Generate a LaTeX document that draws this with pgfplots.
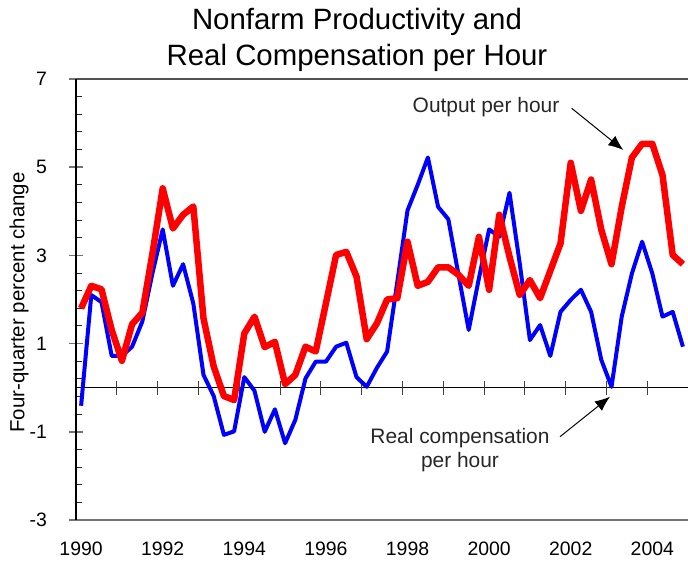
\documentclass[border=0pt]{standalone}
\usepackage{fontspec}
\setmainfont{Liberation Sans}
\usepackage{pgfplots}
\usepackage{pgfplotstable}
\pgfplotsset{compat=1.18}
\usetikzlibrary{arrows.meta}
\definecolor{redline}{RGB}{255,0,0}
\definecolor{blueline}{RGB}{0,0,255}
\definecolor{axgray}{RGB}{115,115,115}

\pgfplotstableread{
x       red    blue
1990.00  1.80  -0.41
1990.25  2.31   2.10
1990.50  2.23   1.94
1990.75  1.31   0.72
1991.00  0.61   0.72
1991.25  1.44   0.93
1991.50  1.70   1.50
1991.75  3.05   2.60
1992.00  4.52   3.59
1992.25  3.61   2.31
1992.50  3.92   2.80
1992.75  4.11   1.91
1993.00  1.57   0.29
1993.25  0.48  -0.19
1993.50 -0.19  -1.07
1993.75 -0.28  -0.99
1994.00  1.23   0.24
1994.25  1.61  -0.07
1994.50  0.92  -1.00
1994.75  1.04  -0.49
1995.00  0.08  -1.26
1995.25  0.29  -0.73
1995.50  0.93   0.21
1995.75  0.82   0.59
1996.00  1.91   0.59
1996.25  3.01   0.93
1996.50  3.08   1.02
1996.75  2.52   0.24
1997.00  1.10   0.02
1997.25  1.46   0.45
1997.50  2.00   0.82
1997.75  2.03   2.40
1998.00  3.31   4.02
1998.25  2.31   4.60
1998.50  2.40   5.22
1998.75  2.73   4.10
1999.00  2.73   3.82
1999.25  2.56   2.56
1999.50  2.31   1.31
1999.75  3.42   2.48
2000.00  2.22   3.59
2000.25  3.92   3.42
2000.50  2.97   4.42
2000.75  2.10   2.82
2001.00  2.44   1.08
2001.25  2.03   1.42
2001.50  2.65   0.72
2001.75  3.27   1.72
2002.00  5.10   1.99
2002.25  4.01   2.22
2002.50  4.72   1.72
2002.75  3.58   0.63
2003.00  2.80   0.02
2003.25  4.10   1.61
2003.50  5.22   2.59
2003.75  5.53   3.31
2004.00  5.53   2.59
2004.25  4.82   1.61
2004.50  3.01   1.72
2004.75  2.80   0.93
}\datatable

\begin{document}
\begin{tikzpicture}[x=1bp,y=1bp]
\useasboundingbox (0,0) rectangle (688,564);
\begin{axis}[
  at={(76bp,44bp)}, anchor=south west,
  scale only axis, width=612bp, height=441bp,
  xmin=1989.875, xmax=2004.875, ymin=-3, ymax=7,
  clip=false,
  axis line style={draw=none},
  xtick={1990,1992,1994,1996,1998,2000,2002,2004},
  xticklabels={1990,1992,1994,1996,1998,2000,2002,2004},
  every x tick/.style={draw=none},
  xtick pos=left,
  xticklabel style={anchor=north, inner sep=0pt, yshift=-22bp},
  ytick={-3,-1,1,3,5,7},
  yticklabels={-3,-1,1,3,5,7},
  ytick pos=left,
  ytick align=center,
  major tick length=14bp,
  every major tick/.style={axgray, line width=1.5bp},
  yticklabel style={anchor=east, inner sep=0pt, xshift=-22bp},
  tick label style={font=\fontsize{19.5}{22}\selectfont},
  /pgf/number format/assume math mode=true,
  every axis y label/.style={at={(rel axis cs:0,0.5)}, xshift=-57bp, yshift=-3bp, rotate=90, anchor=center},
  ylabel={Four-quarter percent change},
  ylabel style={font=\fontsize{20.5}{24}\selectfont},
]
\draw[axgray!70!black, line width=1.5bp] (rel axis cs:0,1) -- (rel axis cs:1,1);
\draw[axgray, line width=2bp] (rel axis cs:0,0) -- (rel axis cs:1,0);
\draw[black, line width=1bp] (axis cs:1989.875,0) -- (axis cs:2004.875,0);
\pgfplotsinvokeforeach{1990.875,1991.875,1992.875,1993.875,1994.875,1995.875,1996.875,1997.875,1998.875,1999.875,2000.875,2001.875,2002.875,2003.875}{
  \draw[black!75, line width=1bp] ([yshift=-7bp]axis cs:#1,0) -- ([yshift=7bp]axis cs:#1,0);
}
\pgfplotsinvokeforeach{-2.6,-2.2,-1.8,-1.4,-0.6,-0.2,0.2,0.6,1.4,1.8,2.2,2.6,3.4,3.8,4.2,4.6,5.4,5.8,6.2,6.6}{
  \draw[black!85, line width=1bp] (axis cs:1989.875,#1) -- ([xshift=6bp]axis cs:1989.875,#1);
}
\addplot[blueline, line width=4bp, line join=round] table[x=x, y=blue] {\datatable};
\addplot[redline, line width=6.5bp, line join=round] table[x=x, y=red] {\datatable};
\draw[black, line width=2.2bp] (rel axis cs:0,0) -- (rel axis cs:0,1);
\end{axis}
\node[anchor=base, font=\fontsize{29.5}{34}\selectfont] at (357,534) {Nonfarm Productivity and};
\node[anchor=base, font=\fontsize{29.5}{34}\selectfont] at (357,498) {Real Compensation per Hour};
\node[anchor=base, font=\fontsize{21}{24}\selectfont, text=black!85] at (486,451) {Output per hour};
\draw[black, line width=1bp, -{Latex[length=15bp,width=12bp]}] (571.7,455.7) -- (623.3,414);
\node[anchor=base, font=\fontsize{21}{24}\selectfont, text=black!85] at (460,120) {Real compensation};
\node[anchor=base, font=\fontsize{21}{24}\selectfont, text=black!85] at (460,96) {per hour};
\draw[black, line width=1bp, -{Latex[length=15bp,width=12bp]}] (560,127.3) -- (610,167.3);
\end{tikzpicture}
\end{document}
